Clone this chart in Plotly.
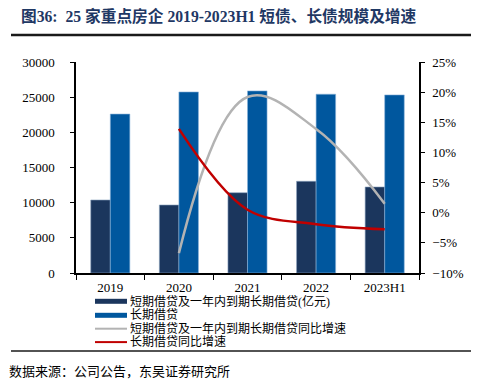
import plotly.graph_objects as go

categories = ["2019", "2020", "2021", "2022", "2023H1"]
short_debt = [10380, 9670, 11420, 13040, 12230]
long_debt = [22600, 25740, 25890, 25420, 25320]
short_growth = [None, -6.7, 19.2, 13.9, 1.5]
long_growth = [None, 13.9, 0.5, -1.9, -2.75]

names = ["短期借贷及一年内到期长期借贷(亿元)", "长期借贷",
         "短期借贷及一年内到期长期借贷同比增速", "长期借贷同比增速"]
colors = ["#1B365D", "#00579E", "#B3B3B3", "#C00000"]

W, H = 478, 388
L, R, T, B = 76, 59, 62, 115
PW, PH = W - L - R, H - T - B


def px(x):
    return (x - L) / PW


def py(y):
    return (H - B - y) / PH


serif = "Liberation Serif"
cjk = "Liberation Serif, Noto Sans CJK SC"

fig = go.Figure()
fig.add_trace(go.Bar(x=categories, y=short_debt, name=names[0],
                     marker=dict(color=colors[0], line=dict(width=0.6, color="#8CA3C0"))))
fig.add_trace(go.Bar(x=categories, y=long_debt, name=names[1],
                     marker=dict(color=colors[1], line=dict(width=0.6, color="#8CB4DA"))))
fig.add_trace(go.Scatter(x=categories, y=short_growth, name=names[2], yaxis="y2",
                         mode="lines", line=dict(color=colors[2], width=2.5, shape="spline", smoothing=1.1)))
fig.add_trace(go.Scatter(x=categories, y=long_growth, name=names[3], yaxis="y2",
                         mode="lines", line=dict(color=colors[3], width=2.5, shape="spline", smoothing=1.0)))

fig.update_layout(
    width=W, height=H,
    margin=dict(l=L, r=R, t=T, b=B, autoexpand=False),
    paper_bgcolor="white", plot_bgcolor="white",
    barmode="group", bargap=0.43, bargroupgap=0,
    font=dict(family=cjk, size=12, color="#000"),
    showlegend=False,
    xaxis=dict(type="category", showline=True, linecolor="#000", linewidth=2,
               ticks="outside", tickson="boundaries", ticklen=5, tickcolor="#000",
               showgrid=False, tickfont=dict(family=serif, size=13), ticklabelstandoff=1),
    yaxis=dict(range=[0, 30000], dtick=5000, showline=True, linecolor="#000", linewidth=1.5,
               ticks="outside", ticklen=4, tickcolor="#000", showgrid=False, zeroline=False,
               tickformat="d", tickfont=dict(family=serif, size=13), ticklabelstandoff=13),
    yaxis2=dict(range=[-10, 25], dtick=5, overlaying="y", side="right", showline=True,
                linecolor="#000", linewidth=1.5, ticks="outside", ticklen=4, tickcolor="#000",
                showgrid=False, zeroline=False, ticksuffix="%", tickfont=dict(family=serif, size=13),
                ticklabelstandoff=5),
)

# title and rules
fig.add_annotation(text="<b>图36:  25 家重点房企 2019-2023H1 短债、长债规模及增速</b>",
                   xref="paper", yref="paper", x=px(19), y=py(16), xanchor="left", yanchor="middle",
                   showarrow=False,
                   font=dict(family=cjk, size=15.7, color="#1F3864"))
fig.add_shape(type="line", xref="paper", yref="paper", x0=px(11), x1=px(471), y0=py(35), y1=py(35),
              line=dict(color="#1A1A1A", width=2.5))
fig.add_shape(type="line", xref="paper", yref="paper", x0=px(11), x1=px(471), y0=py(351), y1=py(351),
              line=dict(color="#1A1A1A", width=1.5))
fig.add_annotation(text="数据来源：公司公告，东吴证券研究所", xref="paper", yref="paper",
                   x=px(7), y=py(371), xanchor="left", yanchor="middle", showarrow=False,
                   font=dict(family=cjk, size=13, color="#000"))

# legend: keys as shapes, labels as text
rows = [301.3, 315.3, 328.7, 342.1]
for i, (name, c) in enumerate(zip(names, colors)):
    yy = py(rows[i])
    if i < 2:
        fig.add_shape(type="rect", xref="paper", yref="paper", x0=px(95), x1=px(127),
                      y0=yy - 2.5 / PH, y1=yy + 2.5 / PH, fillcolor=c, line=dict(width=0))
    else:
        fig.add_shape(type="line", xref="paper", yref="paper", x0=px(95), x1=px(127),
                      y0=yy, y1=yy, line=dict(color=c, width=2))
    fig.add_annotation(text=name, xref="paper", yref="paper", x=px(129), y=yy,
                       xanchor="left", yanchor="middle", showarrow=False, borderpad=0,
                       font=dict(family=cjk, size=12, color="#000"))

fig.write_html("out.html", post_script="document.body.style.margin='0';",
               config={"displayModeBar": False})
